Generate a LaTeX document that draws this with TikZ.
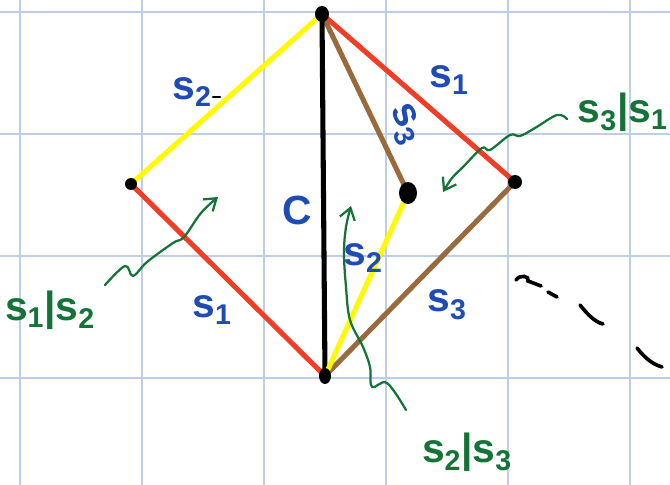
\documentclass[tikz,border=0pt]{standalone}
\usepackage{fontspec}
\setmainfont{Liberation Sans}
\usetikzlibrary{arrows.meta}
\definecolor{gridblue}{RGB}{190,205,232}
\definecolor{penred}{RGB}{238,62,40}
\definecolor{penyellow}{RGB}{255,250,0}
\definecolor{penbrown}{RGB}{152,106,60}
\definecolor{penblue}{RGB}{30,75,180}
\definecolor{pengreen}{RGB}{20,115,55}

\tikzset{
  side/.style={line width=3.6pt},
  seglabel/.style={text=penblue, font=\bfseries\fontsize{29}{31}\selectfont, inner sep=0},
  setlabel/.style={text=pengreen, font=\bfseries\fontsize{29}{31}\selectfont, inner sep=0},
  pointer/.style={draw=pengreen, line width=1.6pt, line cap=round, line join=round,
    -{Straight Barb[length=8pt, width=11pt]}},
  scribble/.style={line width=2.6pt, line cap=round},
}

\begin{document}
\begin{tikzpicture}[x=0.025cm, y=-0.025cm]
  \useasboundingbox[fill=white] (0,0) rectangle (670,485);

  % Grid
  \foreach \gx in {20,142,264,386,508,630}
    \draw[gridblue, line width=0.8pt] (\gx,0) -- (\gx,485);
  \foreach \gy in {12,134,256,378}
    \draw[gridblue, line width=0.8pt] (0,\gy) -- (670,\gy);

  % Vertices
  \coordinate (top) at (322,14);
  \coordinate (left) at (131,184);
  \coordinate (bottom) at (325,376);
  \coordinate (right) at (515,182);
  \coordinate (inner) at (408,193);

  % Edges
  \draw[side, penred] (left) -- (bottom);
  \draw[side, penred] (top) -- (right);
  \draw[side, penyellow] (left) -- (top);
  \draw[side, penbrown] (right) -- (bottom);
  \draw[side, penbrown] (top) -- (inner);
  \draw[side, black] (top) -- (bottom);
  \draw[side, penyellow] (inner) -- (bottom);

  % Dots on the vertices
  \fill (top) ellipse (7 and 8);
  \fill (left) circle (6);
  \fill (bottom) ellipse (6 and 8);
  \fill (right) circle (7);
  \fill (inner) ellipse (9 and 11);

  % Segment labels
  \node[seglabel] (lblTL) at (192,92) {s\textsubscript{2}};
  \node[seglabel] (lblTR) at (449,80) {s\textsubscript{1}};
  \node[seglabel, rotate=-65] (lblTI) at (405,124) {s\textsubscript{3}};
  \node[seglabel] (lblC) at (297,210) {C};
  \node[seglabel] (lblI) at (363,258) {s\textsubscript{2}};
  \node[seglabel] (lblBL) at (212,310) {s\textsubscript{1}};
  \node[seglabel] (lblBR) at (447,305) {s\textsubscript{3}};

  % Set labels
  \node[setlabel] (lbl12) at (50,310) {s\textsubscript{1}|s\textsubscript{2}};
  \node[setlabel, anchor=east] (lbl31) at (668,112) {s\textsubscript{3}|s\textsubscript{1}};
  \node[setlabel] (lbl23) at (467,452) {s\textsubscript{2}|s\textsubscript{3}};

  % Wavy pointers
  \draw[pointer] plot[smooth, tension=0.6] coordinates {(105,285) (125,266) (133,276)
    (147,262) (173,243) (184,237) (201,213) (218,197)};
  \draw[pointer] plot[smooth, tension=0.6] coordinates {(567,119) (557,115) (535,128)
    (520,136) (510,135) (490,150) (482,148) (463,167) (452,178) (443,192)};
  \draw[pointer] plot[smooth, tension=0.6] coordinates {(406,410) (387,383) (372,387)
    (370,367) (363,347) (350,320) (346,287) (344,253) (346,227) (351,206)};

  % Stray strokes
  \draw[line width=2pt, line cap=round] (213,97) -- (220,97);
  \draw[scribble] (516,280) .. controls (520,274) and (530,276) .. (528,281) -- (541,286);
  \draw[scribble] (548,292) -- (557,297);
  \draw[scribble] (580,305) .. controls (588,315) and (595,322) .. (603,324);
  \draw[scribble] (637,348) .. controls (645,358) and (652,364) .. (662,367);

\end{tikzpicture}
\end{document}
